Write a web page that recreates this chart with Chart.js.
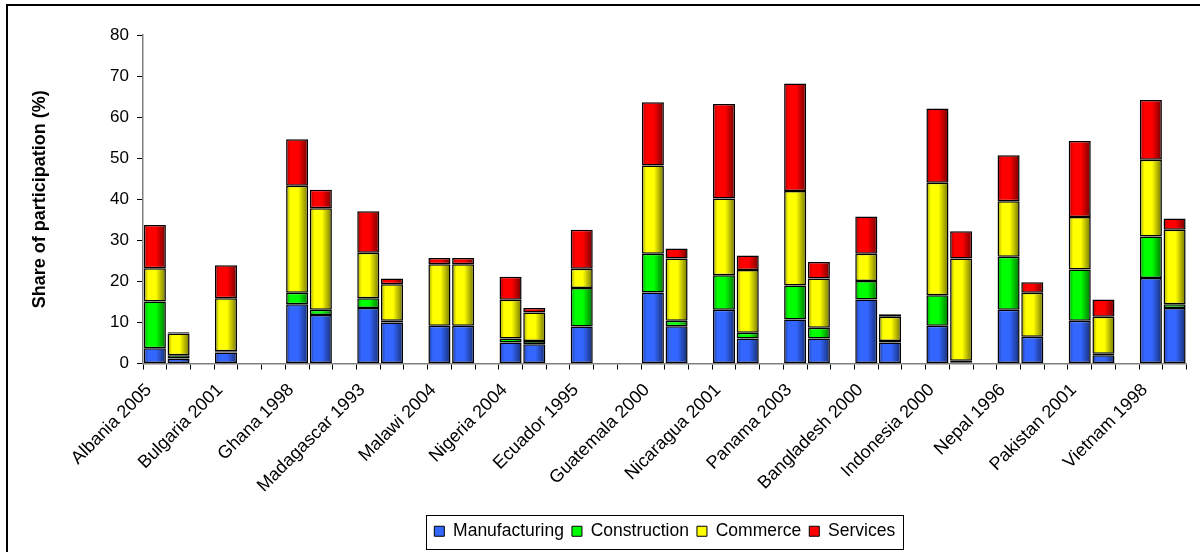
<!DOCTYPE html>
<html lang="en">
<head>
    <meta charset="utf-8" />
    <title>Share of participation by sector</title>
    <script src="https://cdn.jsdelivr.net/npm/chart.js@4/dist/chart.umd.min.js"></script>
    <style>
        html, body { margin: 0; padding: 0; background: #fff; }
        #wrap { width: 1200px; height: 552px; }
    </style>
</head>
<body>
    <div id="wrap"><canvas id="sectorChart" width="1200" height="552"></canvas></div>
    <script type="text/javascript">
        // one labelled slot per survey, then a second survey bar and a spacer
        const countries = ['Albania 2005', 'Bulgaria 2001', 'Ghana 1998', 'Madagascar 1993', 'Malawi 2004',
            'Nigeria 2004', 'Ecuador 1995', 'Guatemala 2000', 'Nicaragua 2001', 'Panama 2003',
            'Bangladesh 2000', 'Indonesia 2000', 'Nepal 1996', 'Pakistan 2001', 'Vietnam 1998'];

        const manufacturing = [3.7, 1.2, null, 2.7, null, null, 14.4, 11.8, null, 13.5, 10.0, null, 9.2, 9.2, null,
            5.1, 4.7, null, 9.0, null, null, 17.3, 9.1, null, 13.1, 6.1, null, 10.7, 6.1, null,
            15.6, 5.1, null, 9.2, 0.2, null, 13.1, 6.5, null, 10.4, 2.0, null, 20.8, 13.5];
        const construction = [11.4, 0.8, null, 0.3, null, null, 2.8, 1.3, null, 2.4, 0.4, null, 0, 0, null,
            1.0, 0.8, null, 9.4, null, null, 9.4, 1.3, null, 8.4, 1.4, null, 8.3, 2.6, null,
            4.5, 0.4, null, 7.4, 0.5, null, 12.9, 0, null, 12.5, 0.4, null, 10.1, 0.9];
        const commerce = [8.1, 5.3, null, 12.9, null, null, 26.1, 24.7, null, 11.1, 8.9, null, 15.0, 15.0, null,
            9.4, 6.9, null, 4.7, null, null, 21.5, 15.2, null, 18.7, 15.3, null, 23.0, 12.0, null,
            6.6, 5.9, null, 27.4, 24.9, null, 13.5, 10.7, null, 12.8, 9.0, null, 18.7, 18.2];
        const services = [10.5, 0.3, null, 8.0, null, null, 11.3, 4.5, null, 10.1, 1.4, null, 1.5, 1.5, null,
            5.6, 1.1, null, 9.5, null, null, 15.4, 2.4, null, 23.0, 3.5, null, 26.2, 4.0, null,
            9.1, 0.6, null, 18.1, 6.6, null, 11.2, 2.6, null, 18.5, 4.2, null, 14.6, 2.7];

        const labels = [];
        countries.forEach(function (name) { labels.push(name, '', ''); });
        labels.length = manufacturing.length;

        const FONT = 'Arial, "Liberation Sans", sans-serif';

        function shade(hex, f) {
            const n = parseInt(hex.slice(1), 16);
            const r = Math.round(((n >> 16) & 255) * f);
            const g = Math.round(((n >> 8) & 255) * f);
            const b = Math.round((n & 255) * f);
            return `rgb(${r},${g},${b})`;
        }

        function dataset(label, data, color) {
            return {
                label: label,
                data: data,
                // a function keeps each bar's options object its own, so the shading plugin can swap the fill
                backgroundColor: () => color,
                borderColor: '#000',
                borderWidth: 1.5,
                borderSkipped: false,
                barPercentage: 0.93,
                categoryPercentage: 1,
                baseColor: color
            };
        }

        // horizontal shading across each bar, like the old 3-D office bars
        const barShading = {
            id: 'barShading',
            beforeDatasetsDraw(chart) {
                const ctx = chart.ctx;
                chart.data.datasets.forEach(function (ds, i) {
                    chart.getDatasetMeta(i).data.forEach(function (bar) {
                        if (!bar.width || !isFinite(bar.x)) {
                            return;
                        }
                        const g = ctx.createLinearGradient(bar.x - bar.width / 2, 0, bar.x + bar.width / 2, 0);
                        g.addColorStop(0, shade(ds.baseColor, 0.62));
                        g.addColorStop(0.2, ds.baseColor);
                        g.addColorStop(0.55, ds.baseColor);
                        g.addColorStop(1, shade(ds.baseColor, 0.45));
                        bar.options.backgroundColor = g;
                    });
                });
            }
        };

        const frameAndLegendBox = {
            id: 'frameAndLegendBox',
            afterDraw(chart) {
                const ctx = chart.ctx;
                ctx.save();
                ctx.strokeStyle = '#000';
                ctx.lineWidth = 2;
                ctx.beginPath();
                ctx.moveTo(7, 560);
                ctx.lineTo(7, 5);
                ctx.lineTo(1210, 5);
                ctx.stroke();

                const boxes = chart.legend.legendHitBoxes;
                if (boxes && boxes.length) {
                    const first = boxes[0];
                    const last = boxes[boxes.length - 1];
                    const l = first.left - 8;
                    const r = last.left + last.width + 8;
                    const t = first.top - 8;
                    const b = first.top + first.height + 8;
                    ctx.lineWidth = 1;
                    ctx.strokeRect(Math.round(l) + 0.5, Math.round(t) + 0.5, Math.round(r - l), Math.round(b - t));
                }
                ctx.restore();
            }
        };

        const chartContext = document.getElementById('sectorChart').getContext('2d');
        const sectorChart = new Chart(chartContext, {
            type: 'bar',
            data: {
                labels: labels,
                datasets: [
                    dataset('Manufacturing', manufacturing, '#3366FF'),
                    dataset('Construction', construction, '#00FF00'),
                    dataset('Commerce', commerce, '#FFFF00'),
                    dataset('Services', services, '#FF0000')
                ]
            },
            options: {
                responsive: false,
                animation: false,
                layout: { padding: { top: 35, right: 12, left: 0, bottom: 2 } },
                plugins: {
                    tooltip: { enabled: false },
                    legend: {
                        position: 'bottom',
                        fullSize: false,
                        labels: {
                            font: { family: FONT, size: 17.5 },
                            color: '#000',
                            boxWidth: 10,
                            boxHeight: 10,
                            padding: 8,
                            generateLabels(chart) {
                                return chart.data.datasets.map(function (ds, i) {
                                    return {
                                        text: ds.label,
                                        fillStyle: ds.baseColor,
                                        strokeStyle: '#000',
                                        lineWidth: 1,
                                        datasetIndex: i,
                                        hidden: false,
                                        fontColor: '#000'
                                    };
                                });
                            }
                        }
                    }
                },
                scales: {
                    x: {
                        stacked: true,
                        offset: true,
                        afterFit(scale) { scale.height = 151; },
                        border: { display: true, color: '#808080', width: 1.5 },
                        grid: { offset: true, drawOnChartArea: false, drawTicks: true, tickLength: 6, color: '#000' },
                        ticks: {
                            autoSkip: false,
                            minRotation: 45,
                            maxRotation: 45,
                            padding: 10,
                            labelOffset: -6,
                            color: '#000',
                            font: { family: FONT, size: 18 }
                        }
                    },
                    y: {
                        stacked: true,
                        min: 0,
                        max: 80,
                        afterFit(scale) { scale.width = 143; },
                        border: { display: true, color: '#808080', width: 1.5 },
                        grid: { drawOnChartArea: false, drawTicks: true, tickLength: 6, color: '#000' },
                        ticks: {
                            stepSize: 10,
                            padding: 8,
                            color: '#000',
                            font: { family: FONT, size: 17 }
                        },
                        title: {
                            display: true,
                            text: 'Share of participation (%)',
                            color: '#000',
                            font: { family: FONT, size: 18, weight: 'bold' },
                            padding: { top: 29, bottom: 0 }
                        }
                    }
                }
            },
            plugins: [barShading, frameAndLegendBox]
        });
    </script>
</body>
</html>
